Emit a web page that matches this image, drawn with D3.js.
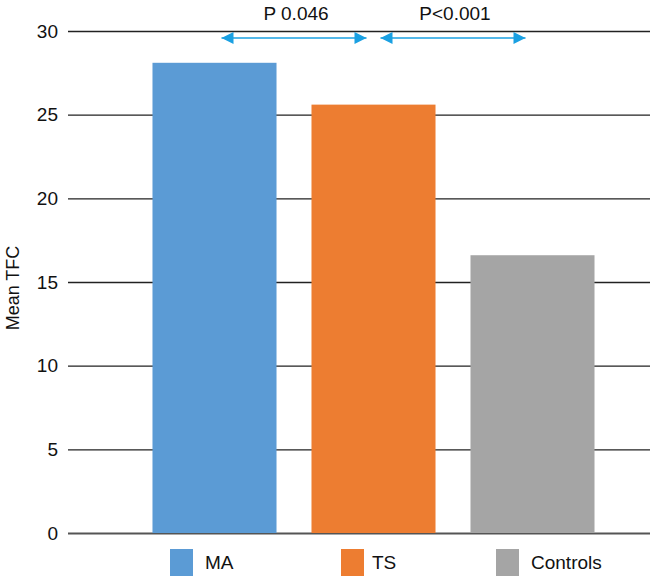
<!DOCTYPE html>
<html>
<head>
<meta charset="utf-8">
<script src="https://cdn.jsdelivr.net/npm/d3@7"></script>
<style>
  body { margin: 0; background: #fff; }
  text { font-family: "Liberation Sans", Arial, sans-serif; fill: #111; }
</style>
</head>
<body>
<div class="chart_container"></div>
<script>
var width = 650
var height = 579

var groups = ["MA", "TS", "Controls"]
var meanTFC = [28.1, 25.6, 16.6]
var colors = ["#5b9bd5", "#ed7d31", "#a5a5a5"]
var yTicks = [0, 5, 10, 15, 20, 25, 30]
var comparisons = [
  { from: "MA", to: "TS", label: "P 0.046" },
  { from: "TS", to: "Controls", label: "P<0.001" }
]

var svg = d3.select(".chart_container").append("svg")
  .attr("width", width)
  .attr("height", height)

var x = d3.scaleBand()
  .domain(groups)
  .range([135, 612])
  .paddingInner(0.22)
  .paddingOuter(0.11)

var y = d3.scaleLinear()
  .domain([0, 30])
  .range([533, 31])

// gridlines + tick labels
var axisLeft = d3.axisLeft(y)
  .tickValues(yTicks)
  .tickSizeInner(-(width - 68))
  .tickSizeOuter(0)
  .tickPadding(10)

var gAxis = svg.append("g")
  .attr("transform", "translate(68,0)")
  .call(axisLeft)

gAxis.select(".domain").remove()
gAxis.selectAll(".tick line")
  .attr("stroke", "#222")
  .attr("stroke-width", 1.4)
gAxis.selectAll(".tick text")
  .style("font-size", "19px")
  .style("font-family", "'Liberation Sans', Arial, sans-serif")
  .attr("fill", "#111")
gAxis.selectAll(".tick").filter(function (d) { return d === 0 }).select("line")
  .attr("stroke", "#555")
  .attr("stroke-width", 2)

svg.append("text")
  .attr("transform", "translate(19," + ((y(0) + y(30)) / 2 + 6) + ") rotate(-90)")
  .style("text-anchor", "middle")
  .style("font-size", "18px")
  .text("Mean TFC")

// bars
svg.selectAll("rect.bar")
  .data(groups)
  .enter()
  .append("rect")
  .attr("class", "bar")
  .attr("x", function (d) { return x(d) })
  .attr("width", x.bandwidth())
  .attr("y", function (d, i) { return y(meanTFC[i]) })
  .attr("height", function (d, i) { return y(0) - y(meanTFC[i]) })
  .attr("fill", function (d, i) { return colors[i] })

// comparison arrows
var defs = svg.append("defs")
defs.append("marker")
  .attr("id", "head")
  .attr("viewBox", "0 0 10 10")
  .attr("refX", 10)
  .attr("refY", 5)
  .attr("markerWidth", 17)
  .attr("markerHeight", 12)
  .attr("markerUnits", "userSpaceOnUse")
  .attr("orient", "auto-start-reverse")
  .append("path")
  .attr("d", "M0,0 L10,5 L0,10 Z")
  .attr("fill", "#1aa0e2")

var half = x.step() / 2 - 7
var arrowY = y(30) + 7

comparisons.forEach(function (c) {
  var mid = (x(c.from) + x(c.to)) / 2 + x.bandwidth() / 2
  svg.append("line")
    .attr("x1", mid - half)
    .attr("x2", mid + half)
    .attr("y1", arrowY)
    .attr("y2", arrowY)
    .attr("stroke", "#1aa0e2")
    .attr("stroke-width", 1.6)
    .attr("marker-start", "url(#head)")
    .attr("marker-end", "url(#head)")
  svg.append("text")
    .attr("x", mid + 2)
    .attr("y", 20)
    .style("text-anchor", "middle")
    .style("font-size", "19px")
    .text(c.label)
})

// legend
var legendX = [170, 341, 496]
var legend = svg.selectAll("g.legend")
  .data(groups)
  .enter()
  .append("g")
  .attr("class", "legend")
  .attr("transform", function (d, i) { return "translate(" + legendX[i] + ",549)" })

legend.append("rect")
  .attr("width", 23)
  .attr("height", 27)
  .attr("fill", function (d, i) { return colors[i] })

legend.append("text")
  .attr("x", function (d, i) { return i === 0 ? 35 : (i === 1 ? 31 : 35) })
  .attr("y", 20)
  .style("font-size", "19px")
  .text(function (d) { return d })
</script>
</body>
</html>
